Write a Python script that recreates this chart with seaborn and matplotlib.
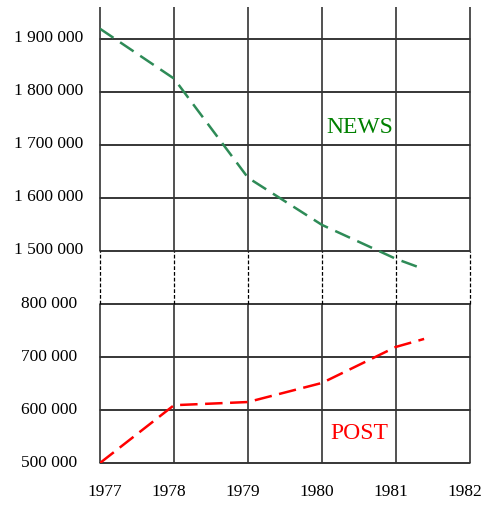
import numpy as np
import matplotlib
matplotlib.use("Agg")
import matplotlib.pyplot as plt
import matplotlib.transforms as mtransforms
import seaborn as sns

# Data
news_years = [1977, 1978, 1979, 1980, 1981, 1981.37]
news_values = [1919000, 1825000, 1638000, 1549000, 1485000, 1466000]
post_years = [1977, 1978, 1979, 1980, 1981, 1981.38]
post_values = [500000, 609000, 615000, 651000, 719000, 734000]
year_ticks = [1977, 1978, 1979, 1980, 1981, 1982]
low_ticks = [500000, 600000, 700000, 800000]
high_ticks = [1500000, 1600000, 1700000, 1800000, 1900000]

sns.set_style("white")
plt.rcParams['font.family'] = ['Liberation Serif', 'DejaVu Serif']

fig = plt.figure(figsize=(4.83, 5.07), dpi=100)
ax = fig.add_axes([100 / 483, 44 / 507, 370 / 483, 456 / 507])


# broken y axis: values above the break are shifted down by 600 000
def forward(y):
    y = np.asarray(y, dtype=float)
    return np.where(y > 1.1e6, y - 6e5, y)


def inverse(t):
    t = np.asarray(t, dtype=float)
    return np.where(t > 8e5, t + 6e5, t)


sns.lineplot(x=news_years, y=news_values, ax=ax, color='#2e8b57', lw=1.8,
             linestyle=(0, (6.5, 3.2)), estimator=None, sort=False)
sns.lineplot(x=post_years, y=post_values, ax=ax, color='red', lw=1.8,
             linestyle=(0, (7, 3)), estimator=None, sort=False)

ax.set_yscale('function', functions=(forward, inverse))
ax.set_xlim(1977, 1982)
ax.set_ylim(500000, 1960000)

# horizontal grid
for v in low_ticks + high_ticks:
    ax.axhline(v, color='black', lw=1.1, zorder=0, clip_on=False)

# vertical grid: solid in both panels, dashed across the break
ax.vlines(year_ticks, low_ticks[0], low_ticks[-1], color='#333333', lw=1.2,
          zorder=0, clip_on=False)
ax.vlines(year_ticks, high_ticks[0], 1960000, color='#333333', lw=1.2,
          zorder=0, clip_on=False)
ax.vlines(year_ticks, low_ticks[-1], high_ticks[0], color='black', lw=0.9,
          linestyles=(0, (3, 1.6)), zorder=0, clip_on=False)

ax.set_yticks(low_ticks + high_ticks)
ax.set_yticklabels([f"{v:,}".replace(",", " ") for v in low_ticks + high_ticks])
ax.set_xticks(year_ticks)
ax.set_xticklabels([str(y) for y in year_ticks])
ax.tick_params(axis='y', length=0, pad=12, labelsize=12.5, labelcolor='black')
ax.tick_params(axis='x', length=0, pad=15, labelsize=12.5, labelcolor='black')
ax.minorticks_off()
for s in ax.spines.values():
    s.set_visible(False)
ax.set_xlabel("")
ax.set_ylabel("")

# small label nudges as in the original
for i, lab in enumerate(ax.get_xticklabels()):
    dx = 5 if i == 0 else -5
    lab.set_transform(lab.get_transform() +
                      mtransforms.ScaledTranslation(dx / 100, 0, fig.dpi_scale_trans))
for lab, v in zip(ax.get_yticklabels(), low_ticks + high_ticks):
    dx = -6 if v in low_ticks else 0
    dy = 2 if v in low_ticks else 3
    lab.set_transform(lab.get_transform() +
                      mtransforms.ScaledTranslation(dx / 100, dy / 100, fig.dpi_scale_trans))

ax.text(1980.51, 1732000, "NEWS", color='green', fontsize=17, ha='center', va='center')
ax.text(1980.51, 555000, "POST", color='red', fontsize=17, ha='center', va='center')

fig.savefig("out.png", dpi=100)
